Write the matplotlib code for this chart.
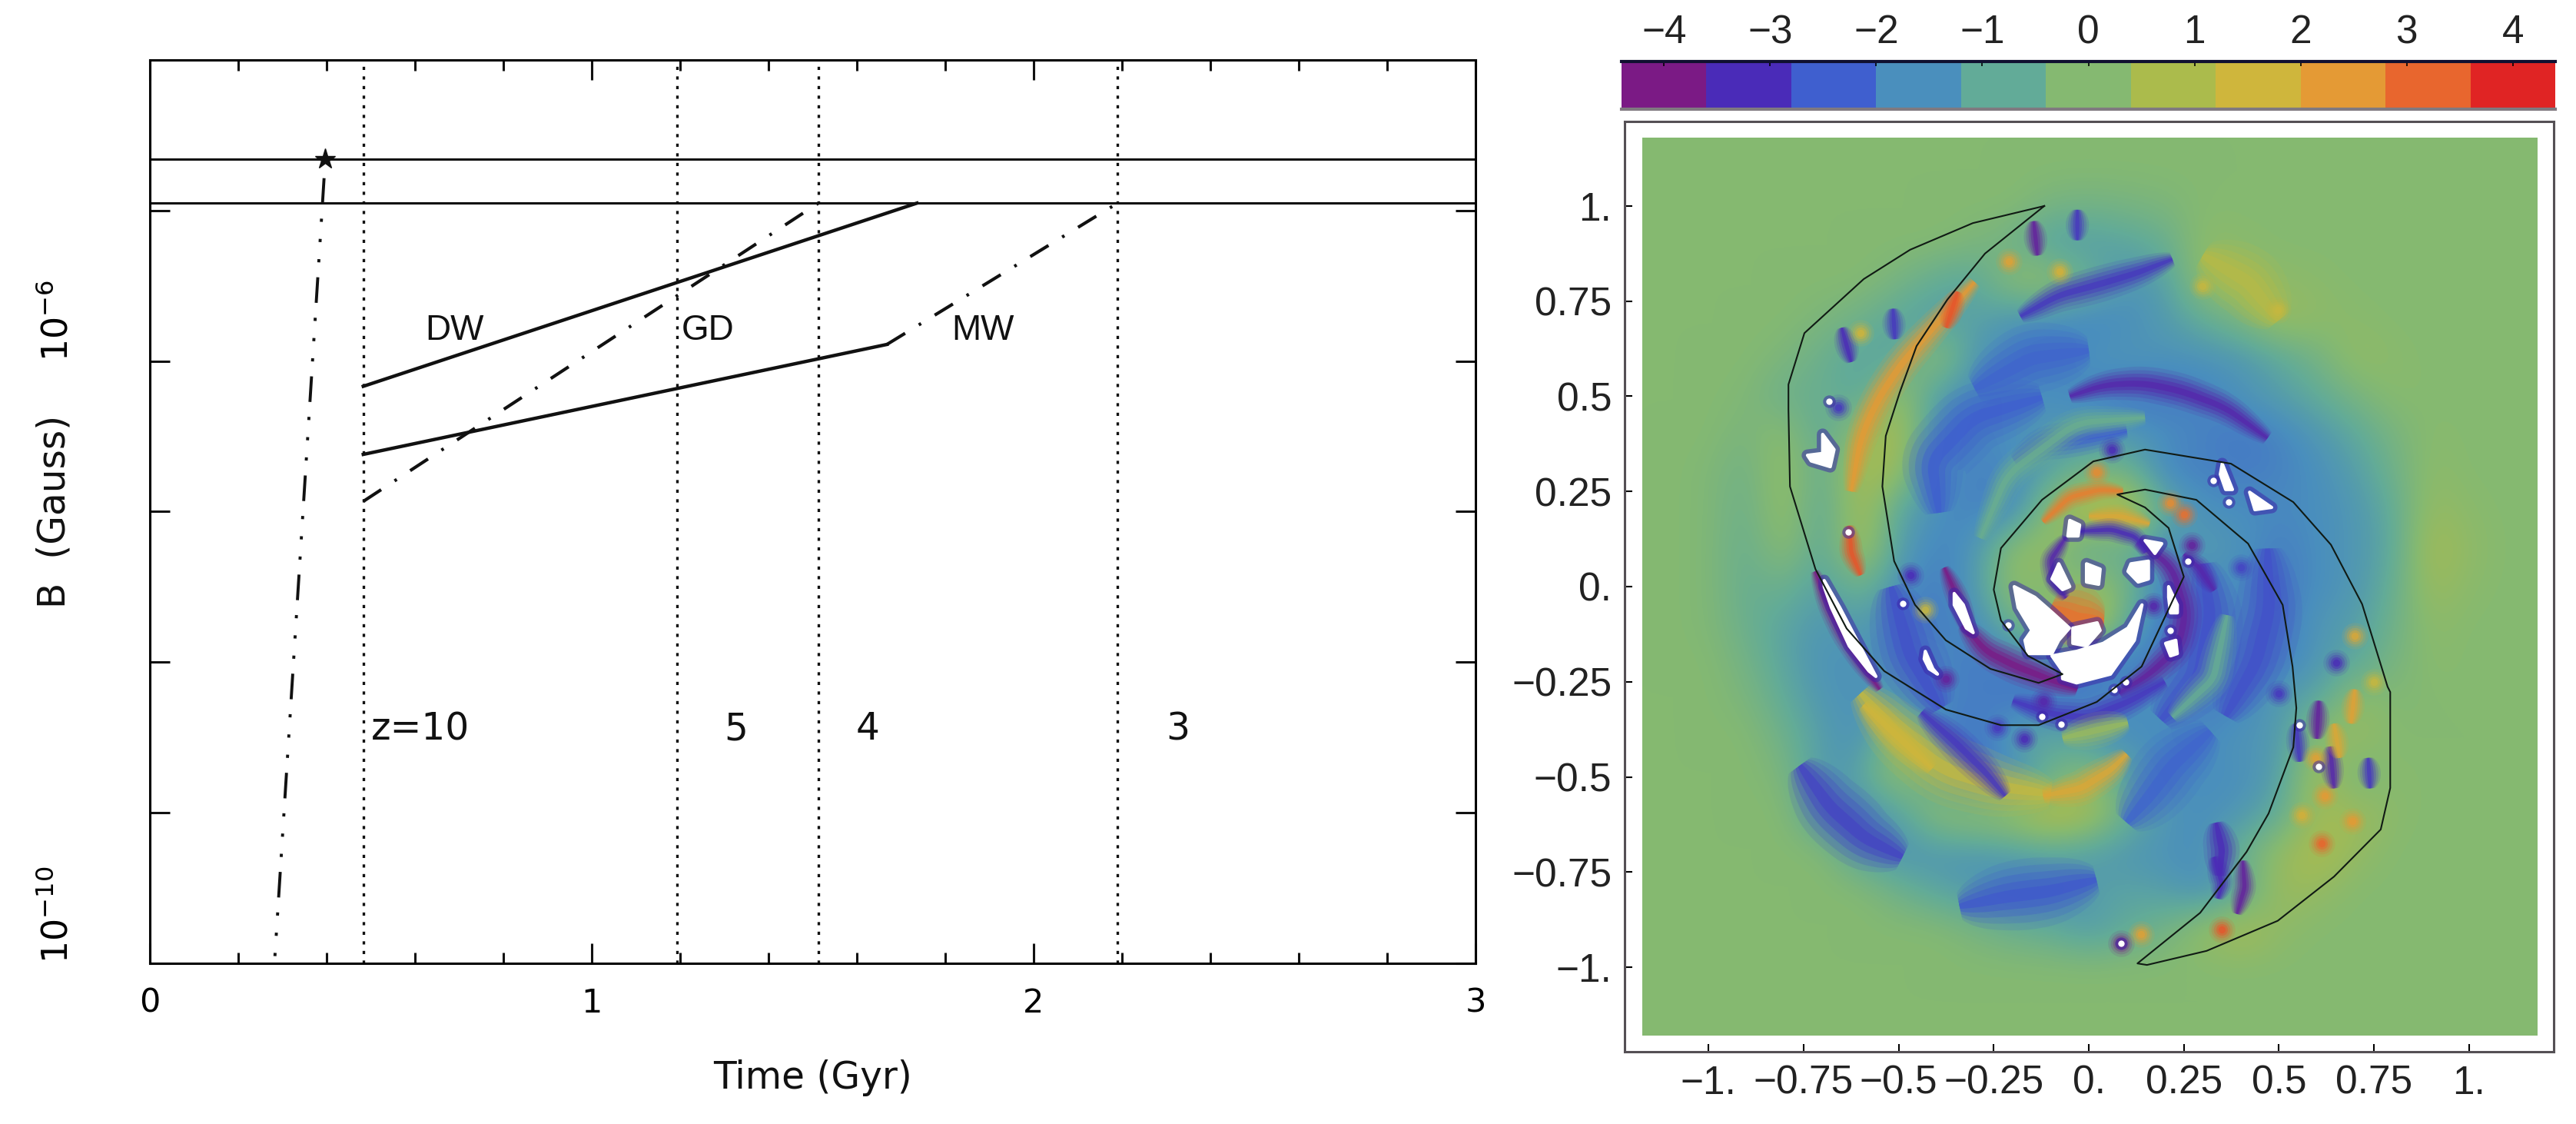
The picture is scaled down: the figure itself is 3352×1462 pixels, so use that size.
import matplotlib
matplotlib.use('Agg')
import matplotlib.pyplot as plt
import numpy as np
from matplotlib.colors import BoundaryNorm, LinearSegmentedColormap, ListedColormap, Normalize
from matplotlib.patches import Polygon, Rectangle

# left panel
t_dw = [0.483, 1.736]
b_dw = [6.8e-7, 1.12e-5]
t_gd = [0.483, 1.513]
b_gd = [1.17e-7, 1.12e-5]
t_mw_solid = [0.483, 1.668]
b_mw_solid = [2.4e-7, 1.29e-6]
t_mw_dash = [1.668, 2.19]
b_mw_dash = [1.29e-6, 1.12e-5]
t_rise = [0.397, 0.282]
b_rise = [2.2e-5, 1e-10]
t_star = [0.397]
b_star = [2.2e-5]
b_hlines = [2.2e-5, 1.12e-5]
t_redshift = [0.483, 1.193, 1.513, 2.19]
z_labels = ['z=10', '5', '4', '3']
z_label_t = [0.612, 1.327, 1.624, 2.327]
z_label_b = 3.6e-9
name_labels = ['DW', 'GD', 'MW']
name_label_t = [0.69, 1.263, 1.885]
name_label_b = 1.6e-6

# right panel: colour scale
level_colors = ['#7b1a85', '#4a2bb8', '#3f5fcf', '#4a8fbd', '#62ab98', '#85b971',
                '#abbb4c', '#cfb63c', '#e49a35', '#e8662e', '#e02424']
level_edges = [-4.4, -3.6, -2.8, -2.0, -1.2, -0.4, 0.4, 1.2, 2.0, 2.8, 3.6, 4.4]
bar_ticks = [-4, -3, -2, -1, 0, 1, 2, 3, 4]
map_ticks = [-1, -0.75, -0.5, -0.25, 0, 0.25, 0.5, 0.75, 1]
map_labels = ['\u22121.', '\u22120.75', '\u22120.5', '\u22120.25', '0.', '0.25', '0.5', '0.75', '1.']

# coarse field estimated by eye, one row per y = 1.2 ... -1.2, x = -1.2 ... 1.2, step 0.1
field = [
    [0]*25,
    [0]*25,
    [0, 0, 0, 0, 0, 0, 0, 0, 0, 0, 0, -.3, -.4, -.3, -.2, 0, 0, 0, 0, 0, 0, 0, 0, 0, 0],
    [0, 0, 0, 0, 0, 0, 0, 0, 0, -.2, -.5, -1.2, -1.2, -1, -.7, .2, .1, 0, 0, 0, 0, 0, 0, 0, 0],
    [0, 0, 0, 0, 0, 0, 0, -.3, -.8, -1, .2, .4, -.6, -1.4, -1.2, .3, .3, .2, .1, 0, 0, 0, 0, 0, 0],
    [0, 0, 0, 0, 0, -.2, -.5, -1, -1.2, -1, -1.5, -1.7, -1.8, -1.6, -1.3, -.8, -.2, .5, .2, .1, 0, 0, 0, 0, 0],
    [0, 0, 0, 0, -.2, -.6, -1, -1, .4, -1.4, -1.7, -1.8, -1.5, -1.4, -1.5, -1.5, -1.4, -.9, -.4, .3, .1, 0, 0, 0, 0],
    [0, 0, 0, -.1, -.6, -.6, -1, .5, -1.3, -1.7, -1.6, -1.6, -1.8, -2, -2, -1.8, -1.5, -1.2, -.8, -.3, .1, 0, 0, 0, 0],
    [0, 0, 0, -.3, .2, -1, .4, .8, -1.5, -1.7, -1.6, -1.3, -1.3, -1.4, -1.6, -1.8, -2, -1.8, -1.4, -.9, -.3, .1, 0, 0, 0],
    [0, 0, -.1, -.5, .4, -.8, .8, .4, -1.6, -1.8, -1.7, -1, -.4, -.4, -1.8, -1.8, -1.9, -1.8, -1.6, -1.2, -.5, .2, 0, 0, 0],
    [0, 0, -.1, -.6, .4, -1, .8, -1, -1.6, -1.8, -1.8, .2, 1.2, 1.2, -.8, -1.6, -1.6, -1.7, -1.6, -1.4, -.8, .4, .1, 0, 0],
    [0, 0, -.1, -.7, .2, -1, .8, -1.2, -1.8, -1.5, .2, .4, -1, -.6, -1.8, -1.2, -1.5, -1.9, -1.6, -1.4, -.9, .7, .2, 0, 0],
    [0, 0, -.1, -.7, -.5, -1.2, -.4, -1.6, -1.9, -1.4, .4, -.3, .4, -.3, -2, -1.6, -1.7, -2, -1.6, -1.4, -.7, .5, .1, 0, 0],
    [0, 0, -.1, -.6, -1, -1.4, -1.2, -1.8, -1.9, -1.7, -.6, .3, 1.4, -.8, -2.2, -1.8, -1.5, -2, -1.4, -1.2, -.5, .2, 0, 0, 0],
    [0, 0, 0, -.4, -1, -1.5, -1.5, -1.5, -1.6, -2, -1.8, -2, -1.9, -2, -1.9, -1.7, -1.9, -1.9, -1.4, -.9, -.3, .1, 0, 0, 0],
    [0, 0, 0, -.2, -.8, -1.4, -1.5, -1.2, -1.8, -1.8, -2, -2, -1.9, -1.6, -1.5, -1.9, -1.8, -1.2, -1, .3, -.1, 0, 0, 0, 0],
    [0, 0, 0, 0, -.5, -1.2, -1.6, .2, -1.6, -2.2, -1.2, -.8, -1.3, -1.6, -1.7, -1.7, -1.4, -1.4, .2, .4, 0, 0, 0, 0, 0],
    [0, 0, 0, 0, -.2, -1.4, -1, .4, -.8, -2.2, -1.7, -.6, .2, -1, -1.6, -1.6, -1.6, -1.2, .7, -.4, .1, 0, 0, 0, 0],
    [0, 0, 0, 0, 0, -1.2, -1.7, -1.2, .2, .4, .6, 1.2, .8, -.6, -1.4, -1.6, -1.4, -.8, .6, .6, .1, 0, 0, 0, 0],
    [0, 0, 0, 0, 0, 0, -1.1, -1.5, -1.4, -1.4, -1.2, -1, -1.2, -1.4, -1.5, -1.6, -.5, .3, .9, .3, 0, 0, 0, 0, 0],
    [0, 0, 0, 0, 0, 0, 0, -.5, -1, -1.3, -1.7, -1.6, -1.2, -1, -1.2, -1.6, -1, .5, .3, 0, 0, 0, 0, 0, 0],
    [0, 0, 0, 0, 0, 0, 0, 0, 0, -.3, -.6, -.8, -1.3, -.8, -.4, .3, .8, .2, 0, 0, 0, 0, 0, 0, 0],
    [0]*25,
    [0]*25,
    [0]*25,
]

# stripes: value, x points, y points
stripes_narrow = [
    (-4.2, [-0.72, -0.69, -0.65, -0.60, -0.55], [0.04, -0.04, -0.12, -0.20, -0.27]),
    (-4.0, [-0.38, -0.345, -0.31], [0.05, -0.03, -0.13]),
    (-3.4, [0.25, 0.29, 0.33], [0.085, 0.05, -0.01]),
    (2.8, [-0.12, -0.05, 0.03, 0.09], [0.17, 0.235, 0.255, 0.25]),
    (2.0, [0.0, 0.085, 0.16], [0.185, 0.185, 0.165]),
    (-3.2, [-0.03, 0.06, 0.125, 0.15], [0.145, 0.15, 0.13, 0.09]),
    (-3.4, [-0.06, -0.10, -0.09, -0.06], [0.13, 0.07, 0.01, -0.03]),
    (-3.2, [0.33, 0.35, 0.34], [-0.71, -0.78, -0.82]),
    (-3.6, [0.405, 0.41, 0.39], [-0.72, -0.79, -0.86]),
    (-3.0, [-0.515, -0.51], [0.73, 0.65]),
    (-3.2, [-0.65, -0.625], [0.68, 0.59]),
    (-3.6, [-0.145, -0.135], [0.96, 0.87]),
    (-3.0, [-0.03, -0.03], [0.99, 0.91]),
    (3.4, [-0.345, -0.375], [0.775, 0.68]),
    (3.4, [-0.63, -0.625, -0.60], [0.16, 0.09, 0.03]),
    (-3.6, [0.605, 0.60], [-0.30, -0.40]),
    (-3.4, [0.635, 0.645], [-0.42, -0.53]),
    (-3.0, [0.545, 0.555], [-0.36, -0.46]),
    (2.0, [0.645, 0.66], [-0.36, -0.45]),
    (2.2, [0.70, 0.69], [-0.27, -0.36]),
    (-3.0, [0.735, 0.74], [-0.45, -0.53]),
]
stripes_medium = [
    (-4.0, [-0.33, -0.27, -0.19, -0.10, -0.03], [-0.10, -0.17, -0.21, -0.245, -0.27]),
    (-3.6, [0.13, 0.22, 0.255, 0.235, 0.16, 0.08], [0.12, 0.05, -0.07, -0.16, -0.23, -0.28]),
    (-3.4, [-0.05, 0.04, 0.14, 0.24, 0.36, 0.47], [0.50, 0.53, 0.535, 0.515, 0.47, 0.39]),
    (-3.0, [-0.44, -0.35, -0.27, -0.22], [-0.33, -0.41, -0.49, -0.55]),
    (-3.0, [-0.18, -0.08, 0.03, 0.13, 0.22], [0.71, 0.765, 0.795, 0.825, 0.86]),
    (2.4, [-0.30, -0.40, -0.49, -0.556, -0.60, -0.625], [0.80, 0.69, 0.59, 0.49, 0.39, 0.25]),
    (2.0, [-0.12, -0.02, 0.06, 0.10], [-0.55, -0.53, -0.48, -0.44]),
    (-3.0, [-0.20, -0.10, 0.0, 0.11, 0.20], [-0.30, -0.335, -0.345, -0.30, -0.25]),
    (-2.4, [-0.196, -0.123, 0.038, 0.10], [0.33, 0.376, 0.40, 0.41]),
    (-0.6, [-0.285, -0.214, -0.032, 0.148], [0.127, 0.295, 0.43, 0.444]),
    (-0.7, [0.364, 0.328, 0.22], [-0.075, -0.243, -0.343]),
    (1.6, [-0.593, -0.483, -0.413], [-0.311, -0.412, -0.479]),
    (0.4, [-0.069, 0.103], [-0.398, -0.358]),
    (-3.2, [0.335, 0.35, 0.345], [-0.62, -0.69, -0.76]),
]
stripes_wide = [
    (-2.6, [0.47, 0.475, 0.44, 0.36], [0.10, -0.06, -0.20, -0.34]),
    (-2.6, [0.30, 0.32, 0.29, 0.19], [0.06, -0.075, -0.24, -0.35]),
    (-2.8, [-0.76, -0.68, -0.59, -0.49], [-0.47, -0.58, -0.66, -0.71]),
    (-2.5, [-0.34, -0.22, -0.10, 0.02], [-0.84, -0.815, -0.80, -0.77]),
    (1.3, [-0.60, -0.50, -0.38, -0.24, -0.10], [-0.28, -0.39, -0.48, -0.525, -0.545]),
    (3.0, [-0.10, -0.03, 0.04], [-0.055, -0.085, -0.09]),
    (-2.4, [-0.394, -0.413, -0.304, -0.123], [0.194, 0.33, 0.444, 0.497]),
    (-2.6, [-0.52, -0.47, -0.39], [0.0, -0.18, -0.32]),
    (1.0, [0.30, 0.42, 0.50], [0.87, 0.80, 0.70]),
    (-2.3, [0.0, -0.15, -0.30], [0.62, 0.60, 0.52]),
    (-2.3, [0.10, 0.16, 0.22, 0.32], [-0.62, -0.55, -0.47, -0.38]),
]

# soft round spots
spot_x = [-0.21, -0.077, 0.497, 0.35, 0.612, 0.694, 0.597, 0.085, 0.137, -0.376, 0.30, -0.60, -0.66, -0.47, -0.43,
          0.65, 0.70, 0.50, 0.56, 0.75, 0.62, 0.17, 0.25, -0.24, -0.17, 0.02, 0.06, -0.12, 0.215, 0.27, 0.40]
spot_y = [0.855, 0.828, 0.727, -0.9, -0.675, -0.617, -0.451, -0.937, -0.913, -0.243, 0.79, 0.667, 0.47, 0.03, -0.06,
          -0.20, -0.13, -0.28, -0.60, -0.25, -0.55, -0.05, 0.19, -0.37, -0.40, 0.30, 0.36, -0.30, 0.22, 0.11, 0.05]
spot_val = [2.2, 1.8, 1.4, 3.4, 3.2, 2.4, 2.2, -4.2, 2.2, -3.6, 1.4, 1.6, -3.0, -3.2, 1.4,
            -3.2, 2.0, -3.0, 1.8, 1.4, 2.4, -3.4, 3.0, -3.0, -3.2, 2.6, -3.2, -3.4, 2.6, -3.6, -2.8]

# white regions where the field leaves the scale
white_regions = [
    ([-0.70, -0.67, -0.68, -0.73, -0.74, -0.70, -0.70], [0.40, 0.36, 0.315, 0.33, 0.345, 0.35, 0.395]),
    ([-0.696, -0.655, -0.61, -0.56, -0.578, -0.63, -0.677, -0.696], [0.016, -0.055, -0.141, -0.236, -0.222, -0.156, -0.055, 0.0]),
    ([-0.354, -0.33, -0.304, -0.322, -0.354], [-0.018, -0.048, -0.121, -0.109, -0.048]),
    ([0.14, 0.12, 0.057, -0.032, -0.069, -0.069, -0.097, -0.032, 0.038, 0.103],
     [-0.048, -0.141, -0.23, -0.253, -0.242, -0.222, -0.182, -0.17, -0.149, -0.109]),
    ([-0.196, -0.142, -0.095, -0.051, -0.079, -0.097, -0.16, -0.168, -0.15, -0.186],
     [0.0, -0.028, -0.069, -0.109, -0.141, -0.176, -0.176, -0.141, -0.115, -0.055]),
    ([-0.042, 0.022, 0.03, -0.006, -0.042], [-0.109, -0.095, -0.115, -0.156, -0.149]),
    ([-0.05, -0.024, -0.028, -0.055], [0.174, 0.162, 0.133, 0.133]),
    ([-0.079, -0.05, -0.069, -0.097], [0.06, 0.0, -0.008, 0.02]),
    ([-0.006, 0.03, 0.026, -0.006], [0.06, 0.046, 0.006, 0.012]),
    ([0.111, 0.157, 0.157, 0.13, 0.103], [0.06, 0.067, 0.02, 0.012, 0.04]),
    ([0.21, 0.233, 0.233, 0.215, 0.21], [0.0, -0.048, -0.069, -0.069, -0.028]),
    ([0.202, 0.229, 0.233, 0.215], [-0.149, -0.141, -0.176, -0.182]),
    ([0.351, 0.378, 0.36, 0.346], [0.323, 0.255, 0.255, 0.295]),
    ([0.423, 0.481, 0.437], [0.248, 0.208, 0.202]),
    ([0.148, 0.192, 0.174], [0.121, 0.113, 0.087]),
    ([-0.43, -0.41, -0.398, -0.42, -0.433], [-0.17, -0.216, -0.23, -0.216, -0.19]),
]
white_dot_x = [-0.489, -0.213, -0.123, -0.073, 0.067, 0.098, 0.215, 0.261, -0.633, 0.328, 0.368, 0.554, 0.605, 0.085, -0.683]
white_dot_y = [-0.044, -0.101, -0.341, -0.362, -0.27, -0.25, -0.115, 0.067, 0.143, 0.279, 0.222, -0.364, -0.472, -0.937, 0.487]

# the arm outline, one closed loop through both tips
arm_x = [-0.117, -0.305, -0.47, -0.592, -0.748, -0.79, -0.79, -0.786, -0.719, -0.637, -0.538, -0.376, -0.231,
         -0.132, 0.021, 0.139, 0.25, 0.21, 0.148, 0.075, 0.148, 0.283, 0.419, 0.51, 0.536, 0.546, 0.538, 0.473,
         0.415, 0.293, 0.128, 0.153, 0.31, 0.497, 0.645, 0.768, 0.793, 0.793, 0.786, 0.719, 0.637, 0.538, 0.374,
         0.148, 0.012, -0.123, -0.231, -0.25, -0.231, -0.16, -0.069, -0.132, -0.259, -0.376, -0.457, -0.512,
         -0.543, -0.534, -0.497, -0.453, -0.372, -0.273, -0.117]
arm_y = [1.0, 0.955, 0.885, 0.808, 0.666, 0.531, 0.465, 0.263, 0.046, -0.11, -0.222, -0.323, -0.364,
         -0.364, -0.303, -0.21, 0.026, 0.154, 0.208, 0.242, 0.255, 0.228, 0.113, -0.048, -0.21, -0.319, -0.422, -0.596,
         -0.697, -0.857, -0.99, -0.994, -0.957, -0.878, -0.762, -0.638, -0.529, -0.277, -0.263, -0.046, 0.11, 0.222, 0.323,
         0.36, 0.329, 0.228, 0.101, -0.008, -0.089, -0.182, -0.23, -0.253, -0.216, -0.141, -0.048, 0.067,
         0.263, 0.396, 0.511, 0.632, 0.754, 0.875, 1.0]

plt.rcParams['font.family'] = 'DejaVu Sans'
plt.rcParams['lines.scale_dashes'] = False
plt.rcParams['axes.linewidth'] = 2.2

W, H = 3352, 1462
fig = plt.figure(figsize=(W / 100, H / 100), dpi=100)


def add_axes_px(left, top, right, bottom):
    return fig.add_axes([left / W, 1 - bottom / H, (right - left) / W, (bottom - top) / H])


# ---- left panel
ax = add_axes_px(195, 78, 1920, 1253)
ax.set_yscale('log')
ax.set_xlim(0, 3)
ax.set_ylim(1e-10, 1e-4)
ink = '#111111'
for t in t_redshift:
    ax.axvline(t, color=ink, lw=2.4, ls=(0, (3, 6)))
for b in b_hlines:
    ax.axhline(b, color=ink, lw=2.2)
ax.plot(t_dw, b_dw, color=ink, lw=3.2)
ax.plot(t_mw_solid, b_mw_solid, color=ink, lw=3.2)
ax.plot(t_gd, b_gd, color=ink, lw=3, ls=(0, (20, 15, 2.5, 15)))
ax.plot(t_mw_dash, b_mw_dash, color=ink, lw=3, ls=(0, (20, 15, 2.5, 15)))
ax.plot(t_rise, b_rise, color=ink, lw=2.8, ls=(75, (24, 14, 3, 16, 3, 16, 3, 14)))
ax.plot(t_star, b_star, color=ink, marker='*', ms=20, ls='none')

for lab, t in zip(z_labels, z_label_t):
    ax.text(t, z_label_b, lab, fontsize=35, ha='center', va='center', color=ink)
for lab, t in zip(name_labels, name_label_t):
    ax.text(t, name_label_b, lab, fontsize=33, ha='center', va='center', color=ink, family='Liberation Sans')

ax.set_xticks([0, 1, 2, 3])
ax.set_xticks(np.arange(0, 3.01, 0.2), minor=True)
ax.set_yticks([1e-10, 1e-9, 1e-8, 1e-7, 1e-6, 1e-5])
ax.set_yticks([], minor=True)
ax.set_yticklabels(['10$^{-10}$', '', '', '', '10$^{-6}$', ''], rotation=90, va='bottom', fontsize=33)
ax.tick_params(which='major', direction='in', top=True, right=True, length=19, width=2.2, color=ink)
ax.tick_params(which='minor', direction='in', top=True, right=True, length=10, width=2.2, color=ink)
ax.tick_params(axis='x', which='major', labelsize=31, pad=22)
ax.tick_params(axis='y', which='major', pad=70)
ax.set_xlabel('Time (Gyr)', fontsize=35, labelpad=38, color=ink)
ax.set_ylabel('B  (Gauss)', fontsize=35, color=ink)
ax.yaxis.set_label_coords(-0.058, 0.5)

# ---- colour bar
bar_cmap = ListedColormap(level_colors)
bar_norm = BoundaryNorm(level_edges, bar_cmap.N)
cax = add_axes_px(2110, 80, 3325, 142)
mids = 0.5 * (np.array(level_edges[:-1]) + np.array(level_edges[1:]))
cax.pcolormesh(level_edges, [0, 1], [mids], cmap=bar_cmap, norm=bar_norm)
cax.set_xlim(level_edges[0], level_edges[-1])
cax.set_yticks([])
cax.xaxis.tick_top()
cax.set_xticks(bar_ticks)
cax.set_xticklabels([str(v).replace('-', '\u2212') for v in bar_ticks], fontsize=37,
                    family='Liberation Sans', color='#222222')
cax.tick_params(axis='x', direction='in', length=4, width=1.2, pad=9)
for side in ['left', 'right']:
    cax.spines[side].set_visible(False)
cax.spines['top'].set_color('#101030')
cax.spines['top'].set_linewidth(3)
cax.spines['bottom'].set_color('#807a80')
cax.spines['bottom'].set_linewidth(3)

# ---- map
field_cmap = LinearSegmentedColormap.from_list('field', level_colors, N=256)
field_norm = Normalize(-4.0, 4.0)
mx = add_axes_px(2114, 158, 3323, 1368)
img_clip = Rectangle((-1.175, -1.18), 2.355, 2.36, transform=mx.transData)
im = mx.imshow(np.array(field, dtype=float), cmap=field_cmap, norm=field_norm,
               extent=(-1.25, 1.25, -1.25, 1.25), origin='upper', interpolation='bicubic', aspect='auto')
im.set_clip_path(img_clip)
mx.set_xlim(-1.221, 1.223)
mx.set_ylim(-1.222, 1.222)


def ribbon(val, xs, ys, half_width):
    # soft tapered brush stroke along the read points
    xs, ys = np.array(xs, dtype=float), np.array(ys, dtype=float)
    d = np.concatenate([[0], np.cumsum(np.hypot(np.diff(xs), np.diff(ys)))])
    s = np.linspace(0, d[-1], 60)
    px, py = np.interp(s, d, xs), np.interp(s, d, ys)
    # smooth the corners
    kernel = np.ones(9) / 9
    px[4:-4] = np.convolve(px, kernel, mode='valid')
    py[4:-4] = np.convolve(py, kernel, mode='valid')
    tx, ty = np.gradient(px), np.gradient(py)
    n = np.hypot(tx, ty)
    nx, ny = -ty / n, tx / n
    taper = np.sin(np.pi * (s / d[-1]) * 0.94 + 0.09) ** 0.4
    c = field_cmap(field_norm(val))
    for k, a in [(1.7, 0.14), (1.35, 0.2), (1.0, 0.3), (0.65, 0.45), (0.3, 0.7)]:
        w = half_width * k * taper
        pts = np.concatenate([np.column_stack([px + nx * w, py + ny * w]),
                              np.column_stack([px - nx * w, py - ny * w])[::-1]])
        mx.add_patch(Polygon(pts, closed=True, fc=c, ec='none', alpha=a, zorder=2))


for val, xs, ys in stripes_wide:
    ribbon(val, xs, ys, 0.055)
for val, xs, ys in stripes_medium:
    ribbon(val, xs, ys, 0.028)
for val, xs, ys in stripes_narrow:
    ribbon(val, xs, ys, 0.018)
for x, y, val in zip(spot_x, spot_y, spot_val):
    c = field_cmap(field_norm(val))
    for s, a in [(620, 0.12), (400, 0.18), (240, 0.28), (120, 0.45), (45, 0.7)]:
        mx.scatter([x], [y], s=s, color=c, alpha=a, linewidths=0, zorder=3)

for xs, ys in white_regions:
    pts = np.column_stack([xs, ys])
    mx.add_patch(Polygon(pts, closed=True, fc='none', ec='#3b22a8', lw=11, alpha=0.5, joinstyle='round', zorder=4))
for xs, ys in white_regions:
    pts = np.column_stack([xs, ys])
    mx.add_patch(Polygon(pts, closed=True, fc='white', ec='white', lw=3, joinstyle='round', zorder=5))
mx.scatter(white_dot_x, white_dot_y, s=140, c='#3b22a8', alpha=0.5, linewidths=0, zorder=4)
mx.scatter(white_dot_x, white_dot_y, s=36, c='white', linewidths=0, zorder=5)
mx.plot(arm_x, arm_y, color='#101a14', lw=1.5, zorder=6)

mx.set_xticks(map_ticks)
mx.set_yticks(map_ticks)
mx.set_xticklabels(map_labels, fontsize=37, family='Liberation Sans', color='#222222')
mx.set_yticklabels(map_labels, fontsize=37, family='Liberation Sans', color='#222222')
mx.tick_params(axis='both', direction='in', length=7, width=1.5, pad=12)
for side in mx.spines:
    mx.spines[side].set_color('#555055')
    mx.spines[side].set_linewidth(2.2)

fig.savefig('out.png', dpi=100)
